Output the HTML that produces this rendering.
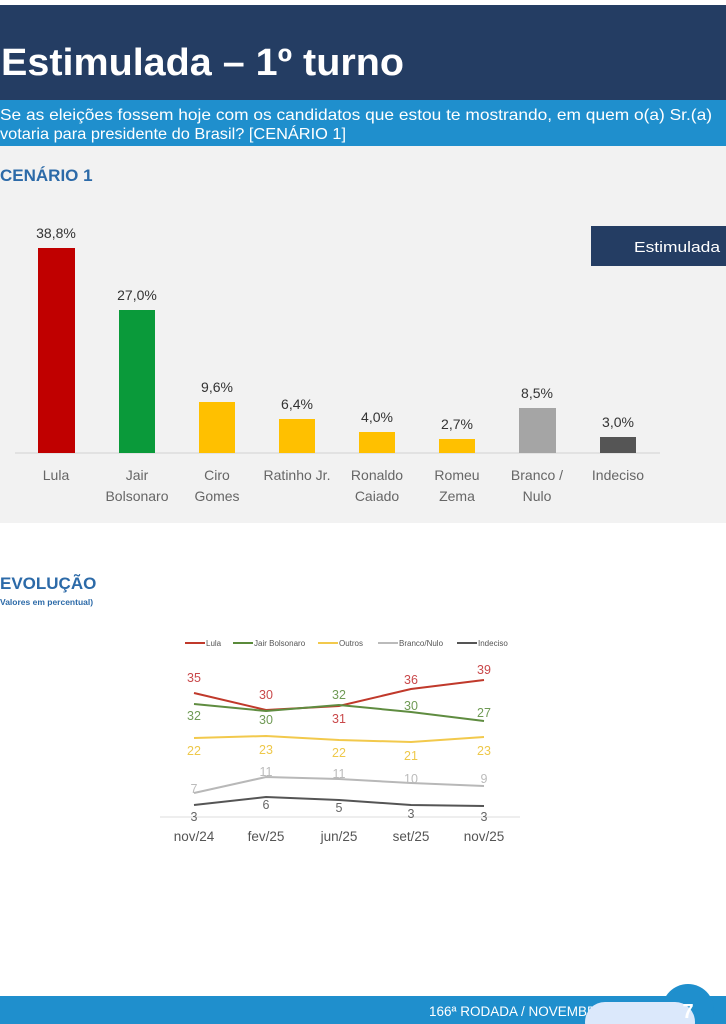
<!DOCTYPE html>
<html><head><meta charset="utf-8"><style>
body{margin:0;width:726px;height:1024px;overflow:hidden;background:#fff;font-family:"Liberation Sans",sans-serif}
svg{display:block}
</style></head><body>
<svg width="726" height="1024" viewBox="0 0 726 1024" xmlns="http://www.w3.org/2000/svg" font-family="Liberation Sans, sans-serif">
<rect x="0" y="5" width="726" height="95" fill="#243d63"/>
<text x="1" y="75" font-size="38" font-weight="bold" fill="#fff" textLength="403" lengthAdjust="spacingAndGlyphs">Estimulada – 1º turno</text>
<rect x="0" y="100" width="726" height="46" fill="#1f8fcd"/>
<text x="0" y="120" font-size="16" fill="#fff" textLength="712" lengthAdjust="spacingAndGlyphs">Se as eleições fossem hoje com os candidatos que estou te mostrando, em quem o(a) Sr.(a)</text>
<text x="0" y="139" font-size="16" fill="#fff" textLength="346" lengthAdjust="spacingAndGlyphs">votaria para presidente do Brasil? [CENÁRIO 1]</text>
<rect x="0" y="146" width="726" height="377" fill="#f2f2f2"/>
<text x="0" y="181" font-size="17" font-weight="bold" fill="#2c6aa8">CENÁRIO 1</text>
<rect x="591" y="226" width="135" height="40" fill="#243d63"/>
<text x="634" y="252" font-size="15" fill="#fff" textLength="86" lengthAdjust="spacingAndGlyphs">Estimulada</text>
<line x1="15" y1="453" x2="660" y2="453" stroke="#ddd" stroke-width="1.5"/>
<g font-size="14" fill="#333" text-anchor="middle">
<rect x="38" y="248" width="37" height="205" fill="#c00000"/><text x="56" y="238">38,8%</text>
<rect x="119" y="310" width="36" height="143" fill="#0a9a3a"/><text x="137" y="300">27,0%</text>
<rect x="199" y="402" width="36" height="51" fill="#ffc000"/><text x="217" y="392">9,6%</text>
<rect x="279" y="419" width="36" height="34" fill="#ffc000"/><text x="297" y="409">6,4%</text>
<rect x="359" y="432" width="36" height="21" fill="#ffc000"/><text x="377" y="422">4,0%</text>
<rect x="439" y="439" width="36" height="14" fill="#ffc000"/><text x="457" y="429">2,7%</text>
<rect x="519" y="408" width="37" height="45" fill="#a5a5a5"/><text x="537" y="398">8,5%</text>
<rect x="600" y="437" width="36" height="16" fill="#555"/><text x="618" y="427">3,0%</text>
</g>
<g font-size="14" fill="#666" text-anchor="middle">
<text x="56" y="480">Lula</text>
<text x="137" y="480">Jair</text><text x="137" y="501">Bolsonaro</text>
<text x="217" y="480">Ciro</text><text x="217" y="501">Gomes</text>
<text x="297" y="480">Ratinho Jr.</text>
<text x="377" y="480">Ronaldo</text><text x="377" y="501">Caiado</text>
<text x="457" y="480">Romeu</text><text x="457" y="501">Zema</text>
<text x="537" y="480">Branco /</text><text x="537" y="501">Nulo</text>
<text x="618" y="480">Indeciso</text>
</g>
<text x="0" y="589" font-size="17" font-weight="bold" fill="#2c6aa8">EVOLUÇÃO</text>
<text x="0" y="605" font-size="8.5" font-weight="bold" fill="#2c6aa8">Valores em percentual)</text>
<g font-size="8" fill="#555">
<line x1="185" y1="643" x2="205" y2="643" stroke="#c0392b" stroke-width="2"/><text x="206" y="646">Lula</text>
<line x1="233" y1="643" x2="253" y2="643" stroke="#5a8a3a" stroke-width="2"/><text x="254" y="646">Jair Bolsonaro</text>
<line x1="318" y1="643" x2="338" y2="643" stroke="#f2c94c" stroke-width="2"/><text x="339" y="646">Outros</text>
<line x1="378" y1="643" x2="398" y2="643" stroke="#bbb" stroke-width="2"/><text x="399" y="646">Branco/Nulo</text>
<line x1="457" y1="643" x2="477" y2="643" stroke="#555" stroke-width="2"/><text x="478" y="646">Indeciso</text>
</g>
<g fill="none" stroke-width="2">
<polyline points="194,693 266,710 339,706 411,689 484,680" stroke="#c0392b"/>
<polyline points="194,704 266,711 339,705 411,712 484,721" stroke="#5f8c40"/>
<polyline points="194,738 266,736 339,740 411,742 484,737" stroke="#f2c94c"/>
<polyline points="194,793 266,777 339,779 411,783 484,786" stroke="#b8b8b8"/>
<polyline points="194,805 266,797 339,800 411,805 484,806" stroke="#555"/>
</g>
<line x1="160" y1="817" x2="520" y2="817" stroke="#ddd"/>
<g font-size="12.5" text-anchor="middle">
<g fill="#c9484a"><text x="194" y="682">35</text><text x="266" y="699">30</text><text x="339" y="723">31</text><text x="411" y="684">36</text><text x="484" y="674">39</text></g>
<g fill="#6f9a55"><text x="194" y="720">32</text><text x="266" y="724">30</text><text x="339" y="699">32</text><text x="411" y="710">30</text><text x="484" y="717">27</text></g>
<g fill="#eec84a"><text x="194" y="755">22</text><text x="266" y="754">23</text><text x="339" y="757">22</text><text x="411" y="760">21</text><text x="484" y="755">23</text></g>
<g fill="#bbb"><text x="194" y="793">7</text><text x="266" y="776">11</text><text x="339" y="778">11</text><text x="411" y="783">10</text><text x="484" y="783">9</text></g>
<g fill="#666"><text x="194" y="821">3</text><text x="266" y="809">6</text><text x="339" y="812">5</text><text x="411" y="818">3</text><text x="484" y="821">3</text></g>
</g>
<g font-size="13.5" fill="#555" text-anchor="middle">
<text x="194" y="841">nov/24</text><text x="266" y="841">fev/25</text><text x="339" y="841">jun/25</text><text x="411" y="841">set/25</text><text x="484" y="841">nov/25</text>
</g>
<rect x="0" y="996" width="726" height="28" fill="#1f8fcd"/>
<circle cx="688" cy="1010" r="26" fill="#1f8fcd"/>
<text x="429" y="1016" font-size="13.5" fill="#fff">166ª RODADA / NOVEMBRO 2025</text>
<rect x="585" y="1002" width="110" height="40" rx="20" fill="#dbe8fb"/>
<text x="688" y="1018" font-size="20" font-weight="bold" fill="#fff" text-anchor="middle">7</text>
</svg>
</body></html>
